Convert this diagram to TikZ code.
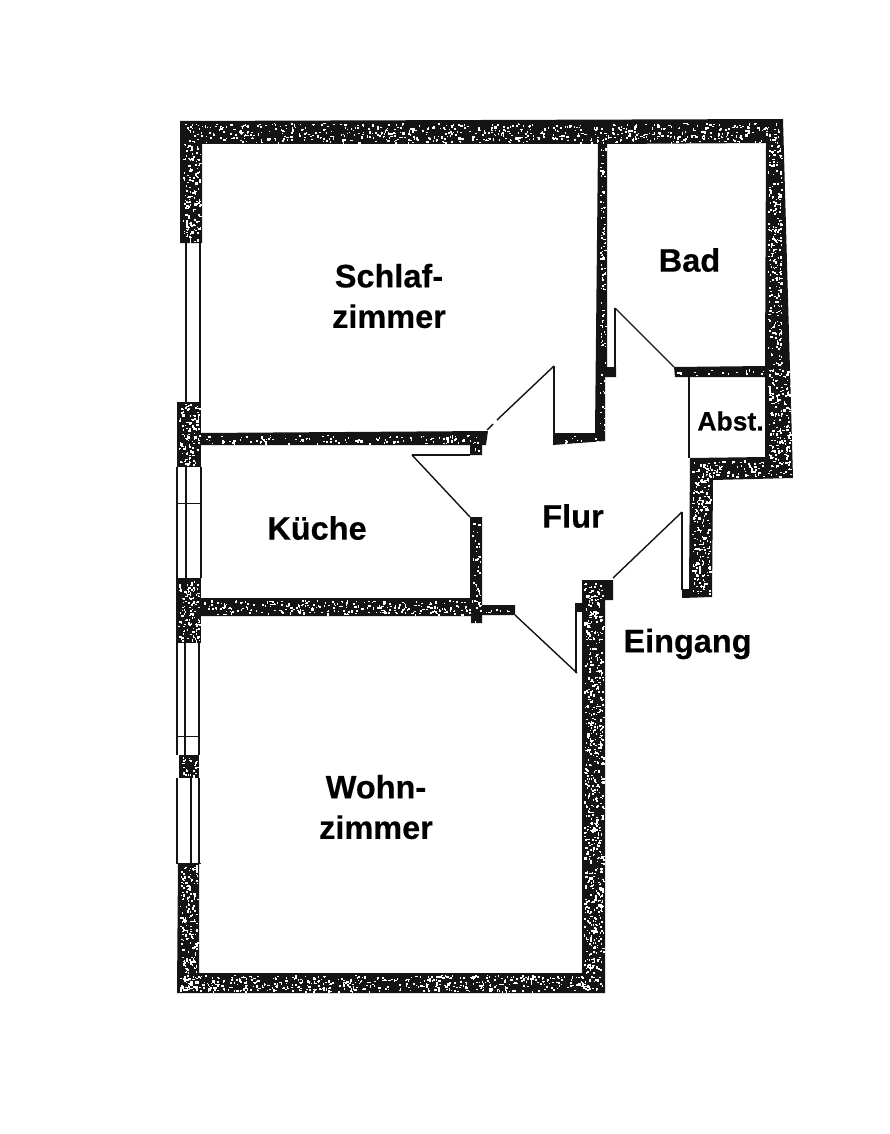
\documentclass[tikz,border=0pt]{standalone}
\usepackage{fontspec}
\setmainfont[BoldFeatures={FakeBold=0.4}]{Liberation Sans}
\definecolor{wallc}{HTML}{141414}
\tikzset{x=1pt,y=-1pt,
  wall/.style={fill=wallc,draw=none},
  thin/.style={draw=wallc,line width=1.7pt},
  swing/.style={draw=wallc,line width=1.4pt},
  win/.style={draw=wallc,line width=1.7pt},
  room/.style={font=\bfseries\fontsize{32.5}{41.5}\selectfont,align=center,inner sep=0pt,text=black}}
% speckle: x1 y1 x2 y2 density
\newcommand\speck[5]{%
  \pgfmathtruncatemacro\nsp{abs((#3-#1)*(#4-#2))*#5}%
  \foreach \i in {1,...,\nsp}{%
    \pgfmathsetmacro\sx{#1+rnd*(#3-#1)}%
    \pgfmathsetmacro\sy{#2+rnd*(#4-#2)}%
    \pgfmathsetmacro\sw{0.8+rnd*1.7}%
    \pgfmathsetmacro\sh{0.8+rnd*1.7}%
    \fill[white] (\sx,\sy) rectangle ++(\sw,\sh);}}
\begin{document}
\begin{tikzpicture}
\useasboundingbox[fill=white] (0,0) rectangle (890,1134);
\pgfmathsetseed{4711}
% windows
\draw[win] (186,243)--(186,403) (200,243)--(200,403);
\draw[win] (177,467)--(177,578) (186,467)--(186,578) (201,467)--(201,578);
\draw[draw=wallc,line width=.9pt] (177,503)--(201,503);
\draw[win] (177,643)--(177,755) (185,643)--(185,755) (199,643)--(199,755);
\draw[draw=wallc,line width=.9pt] (178,736)--(200,736);
\draw[win] (177,778)--(177,863) (191,778)--(191,863) (199,778)--(199,863);
\draw[draw=wallc,line width=1pt] (176,863)--(201,863);
% outer shell: top, upper left pier, right wall, Abst. block, entrance stub
\fill[wall] (180,121)--(783,119)--(790,370)--(793,478)--(713,480)--(712,597)--(682,598)--(682,589)--(689,589)
  --(690,458)--(765,457)--(765,377)--(675,377)--(674,367)--(765,366)--(766,143)--(607,144)
  --(607,367)--(616,367)--(616,377)--(605,377)--(605,441)--(553,445)--(553,433)--(595,433)--(598,144)
  --(202,144)--(202,243)--(180,243)--cycle;
% piers on the left
\fill[wall] (177,402)--(201,402)--(201,467)--(177,467)--cycle;
\fill[wall] (176,578)--(201,578)--(201,643)--(176,643)--cycle;
\fill[wall] (179,755)--(199,755)--(199,778)--(179,778)--cycle;
% partition Schlafzimmer / Kueche with door stub
\fill[wall] (201,433)--(488,431)--(486,445)--(482,445)--(482,455)--(470,455)--(470,445)--(201,445)--cycle;
% partition Kueche / Flur and Kueche / Wohnzimmer
\fill[wall] (470,517)--(482,517)--(482,605)--(515,605)--(515,615)--(482,615)--(482,623)--(471,623)--(471,616)--(201,616)--(201,598)--(470,598)--cycle;
% lower left, bottom and right wall of Wohnzimmer
\fill[wall] (178,863)--(199,863)--(199,973)--(582,973)--(582,580)--(613,580)--(613,600)--(605,600)--(605,993)--(177,993)--cycle;
% door leaves and swings
\draw[thin] (615,308)--(615,370);
\draw[swing] (615,308)--(674,367);
\draw[thin] (554,366)--(554,433);
\draw[swing] (554,366)--(497,420) (493,424)--(487,430);
\draw[thin] (412,455)--(470,455);
\draw[swing] (412,455)--(470,517);
\draw[thin] (576,606)--(576,673);
\draw[swing] (515,615)--(577,673);
\fill[wall] (575,603)--(583,603)--(583,612)--(575,612)--cycle;
\draw[thin] (682,512)--(682,590);
\draw[swing] (682,512)--(613,578);
\draw[thin] (689,377)--(689,458);
% speckle
\speck{183}{123}{780}{142}{.06}
\speck{183}{143}{200}{241}{.085}
\speck{768}{145}{781}{365}{.09}
\speck{768}{368}{790}{476}{.09}
\speck{692}{460}{763}{477}{.08}
\speck{692}{478}{710}{594}{.09}
\speck{600}{146}{605}{430}{.07}
\speck{677}{369}{764}{375}{.03}
\speck{557}{435}{603}{443}{.03}
\speck{204}{435}{480}{443}{.05}
\speck{472}{447}{480}{453}{.06}
\speck{472}{519}{480}{621}{.05}
\speck{203}{600}{470}{614}{.07}
\speck{484}{607}{513}{613}{.06}
\speck{179}{404}{199}{465}{.1}
\speck{178}{580}{199}{641}{.1}
\speck{181}{757}{197}{776}{.09}
\speck{180}{865}{197}{990}{.09}
\speck{180}{975}{603}{991}{.08}
\speck{584}{582}{603}{972}{.09}
% labels
\node[room] (schlaf) at (389,296) {Schlaf-\\[-1pt]zimmer};
\node[room] (bad) at (689.5,260) {Bad};
\node[room,font=\bfseries\fontsize{26.5}{30}\selectfont] (abst) at (730.5,421) {Abst.};
\node[room] (kueche) at (317,528) {Küche};
\node[room] (flur) at (573,516) {Flur};
\node[room] (eingang) at (687.5,644) {Eingang};
\node[room] (wohn) at (376,807) {Wohn-\\[-1pt]zimmer};
\end{tikzpicture}
\end{document}
